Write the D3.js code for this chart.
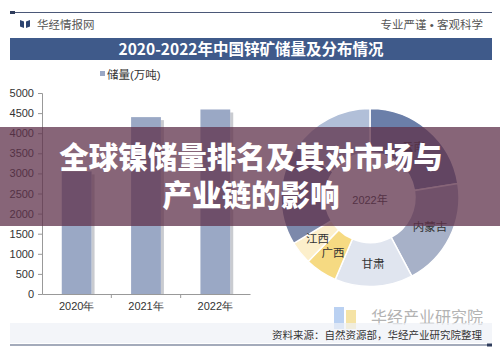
<!DOCTYPE html>
<html>
<head>
<meta charset="utf-8">
<script src="https://cdn.jsdelivr.net/npm/d3@7"></script>
<style>
  body { margin: 0; background: #fff; }
  svg { display: block; font-family: "Liberation Sans", "Noto Sans CJK SC", sans-serif; }
</style>
</head>
<body>
<div id="chart"></div>
<script>
// bar data
const years = ["2020年", "2021年", "2022年"];
const reserves = [3050, 4400, 4590];
const yTicks = [0, 500, 1000, 1500, 2000, 2500, 3000, 3500, 4000, 4500, 5000];

// donut data (2022 distribution, clockwise from top)
const regions = ["云南", "内蒙古", "甘肃", "广西", "江西", "", ""];
const shares = [81, 71, 51, 21, 15, 66, 55];
const regionColors = ["#6b7fa9", "#a7b1c8", "#e0e5ef", "#f6da82", "#fcefcb", "#7c89ab", "#b1bfd8"];

const width = 500, height = 353;

let svg = d3.select("#chart")
    .append("svg")
    .attr("width", width)
    .attr("height", height);

// header
svg.append("line")
    .attr("x1", 10).attr("x2", 492).attr("y1", 12.5).attr("y2", 12.5)
    .attr("stroke", "#4b5878").attr("stroke-width", 1.2);
svg.append("rect").attr("x", 10).attr("y", 11).attr("width", 5).attr("height", 3).attr("fill", "#2f3d5c");

// little logo
svg.append("path").attr("d", "M20,20 L24,21.5 L24,28 L20,26.5 Z").attr("fill", "#2c4470");
svg.append("path").attr("d", "M30,20 L26,21.5 L26,28 L30,26.5 Z").attr("fill", "#2c4470");
svg.append("text").attr("x", 37).attr("y", 28.5)
    .style("font-size", "11.5px").style("fill", "#555")
    .text("华经情报网");
svg.append("text").attr("x", 483).attr("y", 28.5).attr("text-anchor", "end")
    .style("font-size", "11.5px").style("fill", "#555")
    .text("专业严谨 • 客观科学");

// title bar
svg.append("rect").attr("x", 10).attr("y", 38).attr("width", 482).attr("height", 22)
    .attr("fill", "#3f5a8a");
svg.append("text").attr("x", 251).attr("y", 55)
    .attr("text-anchor", "middle")
    .style("font-family", "'Noto Sans CJK SC', sans-serif")
    .style("font-weight", "bold")
    .style("font-size", "15.5px").style("fill", "#fff")
    .text("2020-2022年中国锌矿储量及分布情况");

// bar chart
let x = d3.scaleBand()
    .domain(years)
    .range([42, 250]);

let y = d3.scaleLinear()
    .domain([0, 5000])
    .range([294, 93]);

let yAxis = svg.append("g")
    .attr("transform", "translate(42,0)")
    .call(d3.axisLeft(y).tickValues(yTicks).tickFormat(d3.format("d")).tickSize(4).tickPadding(4));
yAxis.selectAll("text").style("font-size", "11px").style("fill", "#333");
yAxis.selectAll("line").attr("stroke", "#999");
yAxis.select(".domain").attr("stroke", "#999");

let xAxis = svg.append("g")
    .attr("transform", "translate(0,294)")
    .call(d3.axisBottom(x).tickSize(0).tickPadding(8));
xAxis.selectAll("text").style("font-size", "11px").style("fill", "#333");
xAxis.select(".domain").attr("stroke", "#999");
// ticks between bands
svg.append("g").selectAll("line")
    .data(years.slice(1))
    .join("line")
    .attr("x1", d => x(d)).attr("x2", d => x(d))
    .attr("y1", 294).attr("y2", 298)
    .attr("stroke", "#999");

let bar = svg.selectAll(".bar")
    .data(years.map((d, i) => ({ year: d, value: reserves[i] })))
    .join("g")
    .attr("class", "bar");
// shadow on the right side
bar.append("rect")
    .attr("fill", "#c9cbd0")
    .attr("x", d => x(d.year) + x.bandwidth() * 0.715)
    .attr("width", 3)
    .attr("y", d => y(d.value) + 3)
    .attr("height", d => y(0) - y(d.value) - 3);
bar.append("rect")
    .attr("fill", "#9aa8c5")
    .attr("x", d => x(d.year) + x.bandwidth() * 0.285)
    .attr("width", x.bandwidth() * 0.43)
    .attr("y", d => y(d.value))
    .attr("height", d => y(0) - y(d.value));

// legend
svg.append("rect").attr("x", 100).attr("y", 71).attr("width", 5).attr("height", 5).attr("fill", "#9aa8c5");
svg.append("text").attr("x", 107).attr("y", 78.5)
    .style("font-size", "11.5px").style("fill", "#333")
    .text("储量(万吨)");

// donut
const cx = 370, cy = 197.5;
let pie = d3.pie().sort(null).value(d => d.v);
let arc = d3.arc().innerRadius(45).outerRadius(89);
let slices = pie(shares.map((v, i) => ({ v: v, name: regions[i], color: regionColors[i] })));

let donut = svg.append("g").attr("transform", `translate(${cx},${cy})`);
donut.selectAll("path")
    .data(slices)
    .join("path")
    .attr("d", arc)
    .attr("fill", d => d.data.color)
    .attr("stroke", "#fff")
    .attr("stroke-width", 1.5);
donut.selectAll("text.lbl")
    .data(slices.filter(d => d.data.name))
    .join("text")
    .attr("class", "lbl")
    .attr("transform", d => `translate(${arc.centroid(d)})`)
    .attr("text-anchor", "middle")
    .attr("dy", "0.35em")
    .style("font-size", "11.5px").style("fill", "#333")
    .text(d => d.data.name);
donut.append("text")
    .attr("text-anchor", "middle").attr("dy", "0.35em").attr("y", 3)
    .style("font-size", "11px").style("fill", "#333")
    .text("2022年");

// watermark bottom right
svg.append("rect").attr("x", 334).attr("y", 307).attr("width", 10).attr("height", 22).attr("fill", "#a9c6ef").attr("opacity", 0.8);
svg.append("rect").attr("x", 346).attr("y", 310).attr("width", 10).attr("height", 19).attr("fill", "#f3dc8f").attr("opacity", 0.8);
svg.append("text").attr("x", 483).attr("y", 323).attr("text-anchor", "end")
    .style("font-size", "16px").style("fill", "#b3b3b3")
    .text("华经产业研究院");

// source band
svg.append("rect").attr("x", 10).attr("y", 323).attr("width", 482).attr("height", 20).attr("fill", "#eef1f6").attr("opacity", 0.7);
svg.append("line")
    .attr("x1", 10).attr("x2", 490).attr("y1", 345).attr("y2", 345)
    .attr("stroke", "#4b5878").attr("stroke-width", 1.2);
svg.append("rect").attr("x", 487).attr("y", 343.5).attr("width", 5).attr("height", 3).attr("fill", "#2f3d5c");
svg.append("text").attr("x", 482).attr("y", 339).attr("text-anchor", "end")
    .style("font-size", "10.5px").style("fill", "#333")
    .text("资料来源：自然资源部，华经产业研究院整理");

// banner overlay
svg.append("rect").attr("x", 0).attr("y", 127).attr("width", 500).attr("height", 99)
    .attr("fill", "rgb(95,50,75)").attr("opacity", 0.75);
const bannerLines = ["全球镍储量排名及其对市场与", "产业链的影响"];
svg.append("g").selectAll("text")
    .data(bannerLines)
    .join("text")
    .attr("x", 251)
    .attr("y", (d, i) => 168 + i * 38)
    .attr("text-anchor", "middle")
    .style("font-family", "'Noto Sans CJK SC', sans-serif")
    .style("font-weight", "900")
    .style("font-size", "29.5px")
    .style("fill", "#fff")
    .text(d => d);
</script>
</body>
</html>
